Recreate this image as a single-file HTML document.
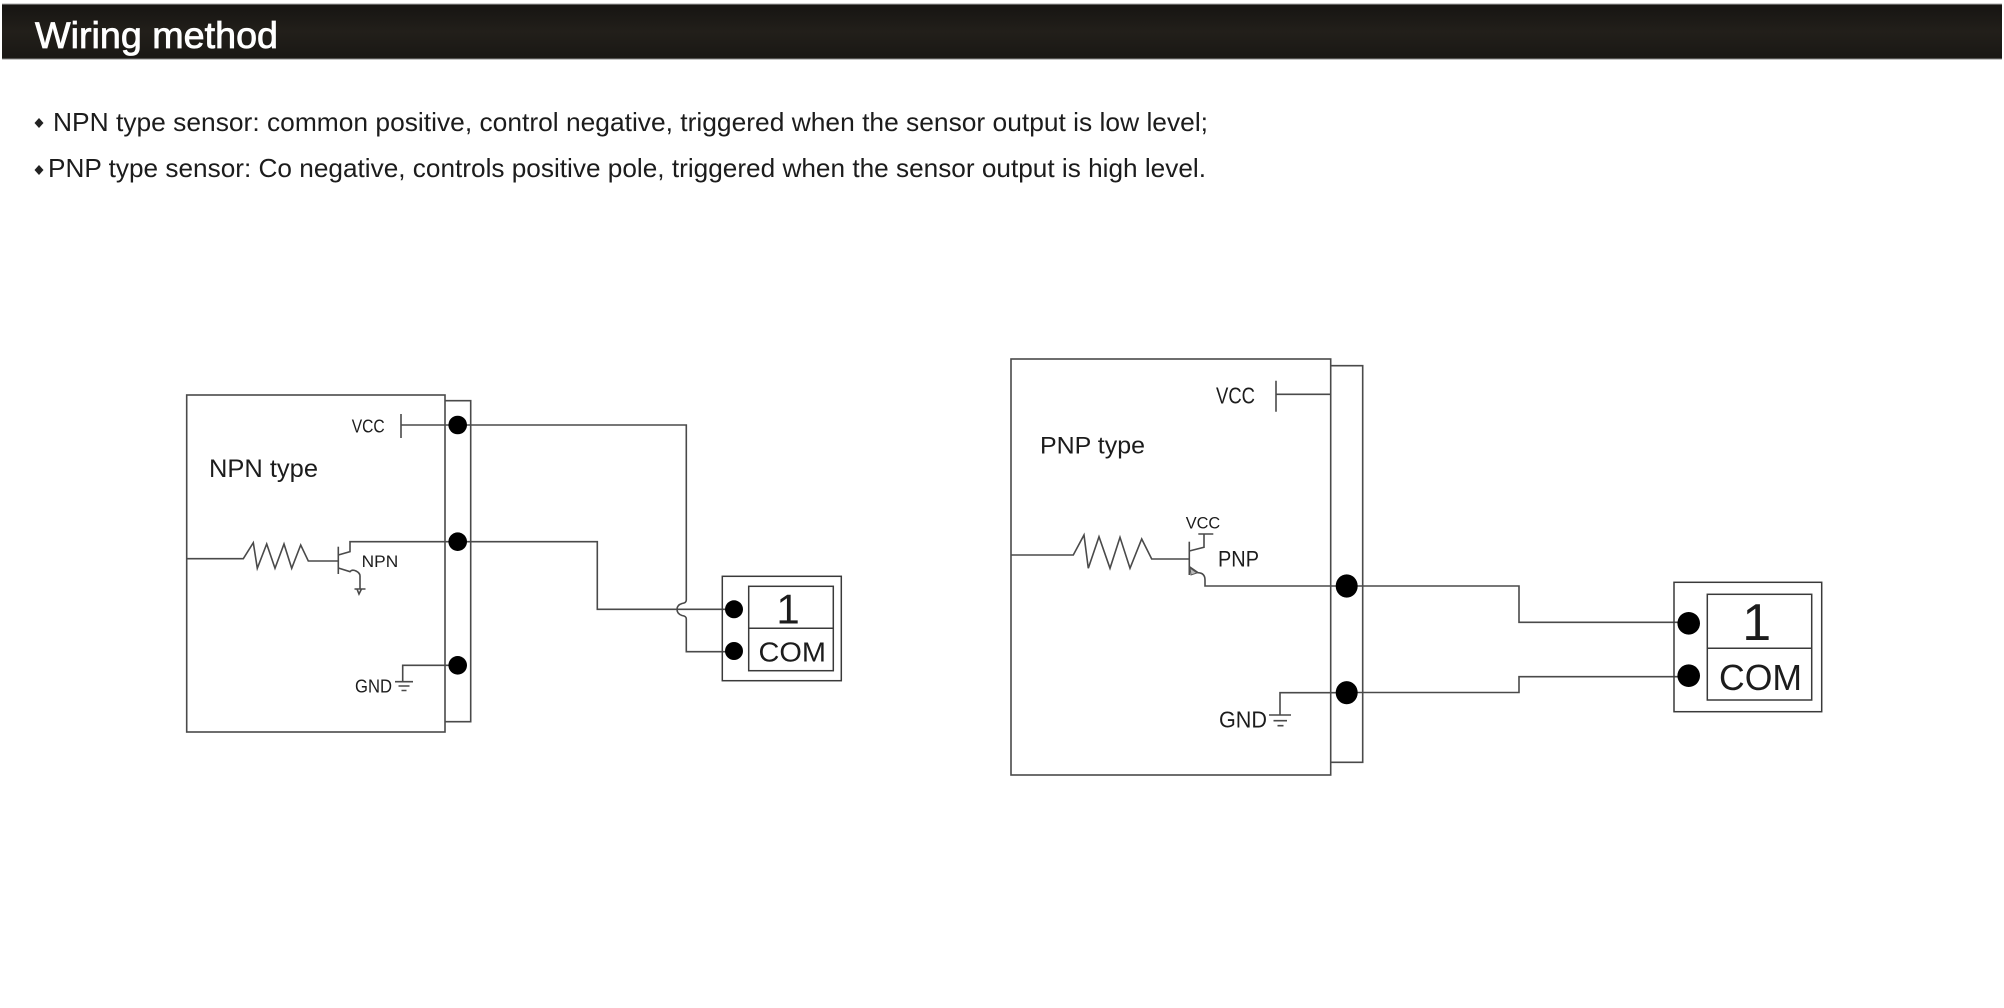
<!DOCTYPE html>
<html>
<head>
<meta charset="utf-8">
<style>
html,body{margin:0;padding:0;background:#fff;width:2004px;height:1008px;overflow:hidden}
svg{display:block}
text{font-family:"Liberation Sans",sans-serif;fill:#1c1c1c}
.w{fill:none;stroke:#4a4a4a;stroke-width:1.6}
.t{fill:none;stroke:#3a3a3a;stroke-width:1.5}
.d{fill:#000;stroke:none}
</style>
</head>
<body>
<svg width="2004" height="1008" viewBox="0 0 2004 1008" xmlns="http://www.w3.org/2000/svg">
<defs>
<linearGradient id="hd" x1="0" y1="0" x2="0" y2="1">
<stop offset="0" stop-color="#161412"/><stop offset=".5" stop-color="#221f1a"/><stop offset="1" stop-color="#191714"/>
</linearGradient>
</defs>
<rect width="2004" height="1008" fill="#fff"/>
<rect x="2" y="4" width="2000" height="55.500" fill="url(#hd)"/>
<rect x="2" y="3.500" width="2000" height="1" fill="#aaa"/>
<rect x="2" y="58.500" width="2000" height="1" fill="#888"/>
<text x="35" y="48" font-size="37" textLength="243" lengthAdjust="spacingAndGlyphs" style="fill:#fff;stroke:#fff;stroke-width:.8">Wiring method</text>

<polygon points="39,118 43.500,123 39,128 34.500,123" fill="#222"/>
<text x="53" y="131" font-size="26" textLength="1155" lengthAdjust="spacingAndGlyphs">NPN type sensor: common positive, control negative, triggered when the sensor output is low level;</text>
<polygon points="39,165 43.500,170 39,175 34.500,170" fill="#222"/>
<text x="48" y="177" font-size="26" textLength="1158" lengthAdjust="spacingAndGlyphs">PNP type sensor: Co negative, controls positive pole, triggered when the sensor output is high level.</text>

<!-- NPN -->
<rect x="186.700" y="395" width="258.300" height="337" class="w"/>
<path d="M445 400.700H470.700V721.700H445" class="w"/>
<text x="351.700" y="432.700" font-size="18" textLength="33" lengthAdjust="spacingAndGlyphs">VCC</text>
<path d="M401 414V438M401 425H458" class="w"/>
<text x="209" y="477" font-size="25" textLength="109" lengthAdjust="spacingAndGlyphs">NPN type</text>
<path d="M187 558.700H243.300L253.300 542.700L257.300 568.300L266.700 544L275 568.300L284 544L291.700 568.300L300.700 545L308.300 561H338.300" class="w"/>
<path d="M338.300 546.700V574" class="w"/>
<path d="M338.300 555L350 551.700V541.700H458" class="w"/>
<path d="M338.300 568L350 571.700Q352 569 356 571Q360 573 360 576V589M354.500 589H365.500M357 589L359 594L361.500 589" class="w"/>
<text x="361.700" y="567" font-size="17" textLength="36.500" lengthAdjust="spacingAndGlyphs">NPN</text>
<text x="355" y="692.700" font-size="18" textLength="37" lengthAdjust="spacingAndGlyphs">GND</text>
<path d="M458 665.300H402.700V681.700M395 681.700H413M398.500 686H409.500M401.500 690.500H406.500" class="w"/>

<path d="M458 425H686.300V600Q686.300 603 682 603.500Q677 605 677 609.300Q677 614 682 615.500Q686.300 616 686.300 619V651.700H734" class="w"/>
<path d="M458 541.700H597.300V609.300H734" class="w"/>
<rect x="722.300" y="576.300" width="119" height="104.400" class="t"/>
<rect x="748.700" y="586.300" width="84.600" height="84.400" class="t"/>
<path d="M748.700 628.300H833.300" class="t"/>
<text x="788" y="623.500" font-size="42" text-anchor="middle">1</text>
<text x="758.500" y="661.700" font-size="28" textLength="67.500" lengthAdjust="spacingAndGlyphs">COM</text>

<!-- PNP -->
<rect x="1011" y="359" width="319.700" height="416" class="w"/>
<path d="M1330.700 365.700H1362.700V762.300H1330.700" class="w"/>
<text x="1216" y="403.300" font-size="23" textLength="39" lengthAdjust="spacingAndGlyphs">VCC</text>
<path d="M1276 380.700V411.700M1276 394.300H1331" class="w"/>
<text x="1040" y="453.300" font-size="24" textLength="105" lengthAdjust="spacingAndGlyphs">PNP type</text>
<path d="M1011 555H1073.300L1084 535L1088.300 568.300L1099 536.700L1110 568.300L1120 537.300L1130 568.300L1141.700 539L1151.700 559H1189.300" class="w"/>
<path d="M1189.300 541.700V575" class="w"/>
<path d="M1189.300 551L1204 547.300V534M1198.300 534H1213.300" class="w"/>
<text x="1185.700" y="528.300" font-size="17" textLength="34.500" lengthAdjust="spacingAndGlyphs">VCC</text>
<path d="M1189.300 566.700L1198 572.700Q1205 573 1205 580V586H1347" class="w"/>
<path d="M1190 568L1197 573L1191 575Z" fill="#bbb" stroke="#555" stroke-width="1"/>
<text x="1218" y="566.700" font-size="22" textLength="41" lengthAdjust="spacingAndGlyphs">PNP</text>
<text x="1219" y="727.300" font-size="23" textLength="48" lengthAdjust="spacingAndGlyphs">GND</text>
<path d="M1347 692.700H1280V715M1269 715H1291M1273.500 720.700H1287M1277.500 725.700H1283.500" class="w"/>

<path d="M1347 586H1519V622.300H1689" class="w"/>
<path d="M1347 692.500H1519V676.700H1689" class="w"/>
<rect x="1674" y="582.300" width="147.700" height="129.400" class="t"/>
<rect x="1707.300" y="594.300" width="104.400" height="105.700" class="t"/>
<path d="M1707.300 648.300H1811.700" class="t"/>
<text x="1756.700" y="640" font-size="52" text-anchor="middle">1</text>
<text x="1719" y="690" font-size="36" textLength="83" lengthAdjust="spacingAndGlyphs">COM</text>

<!-- terminal dots drawn last so wires sit beneath them -->
<circle cx="457.700" cy="425" r="9.300" class="d"/>
<circle cx="457.700" cy="541.700" r="9.300" class="d"/>
<circle cx="457.700" cy="665.300" r="9.300" class="d"/>
<circle cx="734" cy="609.300" r="9" class="d"/>
<circle cx="734" cy="651" r="9" class="d"/>
<ellipse cx="1346.700" cy="586" rx="11" ry="11.600" class="d"/>
<ellipse cx="1346.700" cy="692.700" rx="11" ry="11.600" class="d"/>
<circle cx="1688.700" cy="623.300" r="11.300" class="d"/>
<circle cx="1688.700" cy="675.700" r="11.300" class="d"/>
</svg>
</body>
</html>
